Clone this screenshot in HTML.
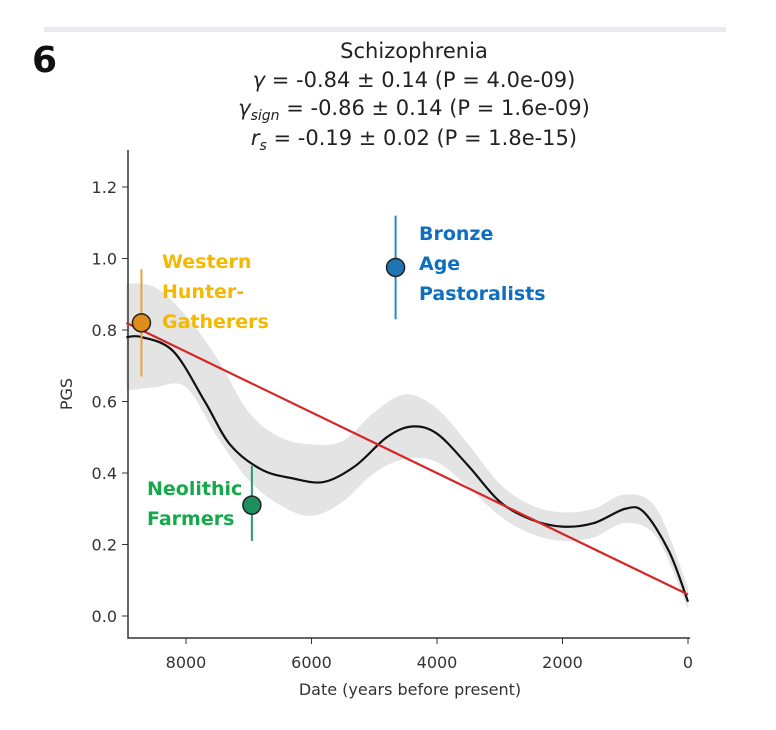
<!DOCTYPE html>
<html><head><meta charset="utf-8"><style>
body{margin:0;background:#fff;width:776px;height:725px;overflow:hidden}
svg text{font-family:"DejaVu Sans","Liberation Sans",sans-serif}
</style></head><body>
<svg id="c" width="776" height="725" xmlns="http://www.w3.org/2000/svg">
<rect x="44" y="27" width="682" height="5" fill="#e8eaef"/>
<text x="32" y="72" font-size="36" font-weight="bold" font-family="Liberation Sans" fill="#111">6</text>
<g fill="#222" font-size="21" text-anchor="middle">
<text x="414" y="58">Schizophrenia</text>
<text x="414" y="87"><tspan font-style="italic">γ</tspan> = -0.84 ± 0.14 (P = 4.0e-09)</text>
<text x="414" y="115"><tspan font-style="italic">γ</tspan><tspan font-size="14" font-style="italic" dy="5">sign</tspan><tspan dy="-5"> = -0.86 ± 0.14 (P = 1.6e-09)</tspan></text>
<text x="414" y="145"><tspan font-style="italic">r</tspan><tspan font-size="14" font-style="italic" dy="5">s</tspan><tspan dy="-5"> = -0.19 ± 0.02 (P = 1.8e-15)</tspan></text>
</g>
<g id="plot"></g>
</svg>
<script>
const xTicks=[8000,6000,4000,2000,0];
const yTicks=[0.0,0.2,0.4,0.6,0.8,1.0,1.2];
const curveYears=[8950,8700,8200,7700,7300,6800,6300,5800,5300,4800,4400,4000,3500,3000,2500,2000,1500,1000,700,300,0];
const curveVals=[0.78,0.78,0.74,0.6,0.48,0.41,0.385,0.375,0.42,0.5,0.53,0.51,0.42,0.32,0.27,0.25,0.26,0.3,0.29,0.18,0.04];
const bandYears=[8950,8500,8000,7500,7000,6500,6000,5500,5000,4500,4000,3500,3000,2500,2000,1500,1000,500,0];
const bandUpper=[0.93,0.92,0.84,0.72,0.57,0.5,0.48,0.49,0.57,0.62,0.58,0.48,0.37,0.31,0.29,0.3,0.34,0.3,0.08];
const bandLower=[0.63,0.64,0.64,0.5,0.38,0.31,0.28,0.32,0.4,0.44,0.43,0.36,0.28,0.23,0.21,0.22,0.26,0.22,0.02];
const fitYears=[8950,0];
const fitVals=[0.82,0.06];
const groupNames=["Western Hunter-Gatherers","Neolithic Farmers","Bronze Age Pastoralists"];
const groupYears=[8710,6950,4660];
const groupVals=[0.82,0.31,0.975];
const groupLo=[0.67,0.21,0.83];
const groupHi=[0.97,0.42,1.12];

const X=v=>688-(v/2000)*125.5;
const Y=v=>616-(v/0.2)*71.5;
const NS="http://www.w3.org/2000/svg";
const g=document.getElementById('plot');
function mk(t,a,p){const e=document.createElementNS(NS,t);for(const k in a)e.setAttribute(k,a[k]);(p||g).appendChild(e);return e;}
function smooth(pts){let d=`M${pts[0][0]},${pts[0][1]}`;for(let i=0;i<pts.length-1;i++){const p0=pts[Math.max(0,i-1)],p1=pts[i],p2=pts[i+1],p3=pts[Math.min(pts.length-1,i+2)];const c1=[p1[0]+(p2[0]-p0[0])/6,p1[1]+(p2[1]-p0[1])/6],c2=[p2[0]-(p3[0]-p1[0])/6,p2[1]-(p3[1]-p1[1])/6];d+=`C${c1[0]},${c1[1]} ${c2[0]},${c2[1]} ${p2[0]},${p2[1]}`;}return d;}
const up=bandYears.map((y,i)=>[X(y),Y(bandUpper[i])]);
const lo=bandYears.map((y,i)=>[X(y),Y(bandLower[i])]).reverse();
let bd=smooth(up)+smooth(lo).replace('M','L')+'Z';
let band=mk('path',{d:bd,fill:'#e4e4e4'});


let ax=mk('path',{d:'M128,150V638H690',fill:'none',stroke:'#333','stroke-width':1.5});


xTicks.forEach(t=>{
 mk('line',{x1:X(t),x2:X(t),y1:638,y2:644,stroke:'#333'});
 let tx=mk('text',{x:X(t),y:668,'font-size':16,'text-anchor':'middle',fill:'#333'});tx.textContent=t;
 
 
});
yTicks.forEach(t=>{
 mk('line',{x1:122,x2:128,y1:Y(t),y2:Y(t),stroke:'#333'});
 let tx=mk('text',{x:117,y:Y(t)+6,'font-size':16,'text-anchor':'end',fill:'#333'});tx.textContent=t.toFixed(1);
 
 
});
let xt=mk('text',{x:410,y:695,'font-size':16,'text-anchor':'middle',fill:'#333'});xt.textContent='Date (years before present)';


let yt=mk('text',{x:72,y:394,'font-size':16,'text-anchor':'middle',fill:'#333',transform:'rotate(-90 72 394)'});yt.textContent='PGS';


let cv=mk('path',{d:smooth(curveYears.map((y,i)=>[X(y),Y(curveVals[i])])),fill:'none',stroke:'#111','stroke-width':2.2});


let fl=mk('line',{x1:X(fitYears[0]),y1:Y(fitVals[0]),x2:X(fitYears[1]),y2:Y(fitVals[1]),stroke:'#d62728','stroke-width':2.2});


const cols=['#e08e1b','#1e8f5e','#1f74b4'];
const lineCols=['#e8a23c','#2a9a6a','#2a86c4'];
groupYears.forEach((yr,i)=>{
 let e=mk('line',{x1:X(yr),x2:X(yr),y1:Y(groupLo[i]),y2:Y(groupHi[i]),stroke:lineCols[i],'stroke-width':2});
 
 
 let c=mk('circle',{cx:X(yr),cy:Y(groupVals[i]),r:9,fill:cols[i],stroke:'#222','stroke-width':1.5});
 
 
});
const labels=[[["Western","Hunter-","Gatherers"],162,268,'#f5b800'],[["Neolithic","Farmers"],147,495,'#16a84a'],[["Bronze","Age","Pastoralists"],419,240,'#0e6fc0']];
labels.forEach(([ls,x,y,c])=>{
 let t=mk('text',{x:x,y:y,'font-size':19,'font-weight':'bold',fill:c,'font-family':'Liberation Sans'});
 
 
 ls.forEach((s,j)=>{let ts=mk('tspan',{x:x,y:y+j*30},t);ts.textContent=s;});
});
</script>
</body></html>
